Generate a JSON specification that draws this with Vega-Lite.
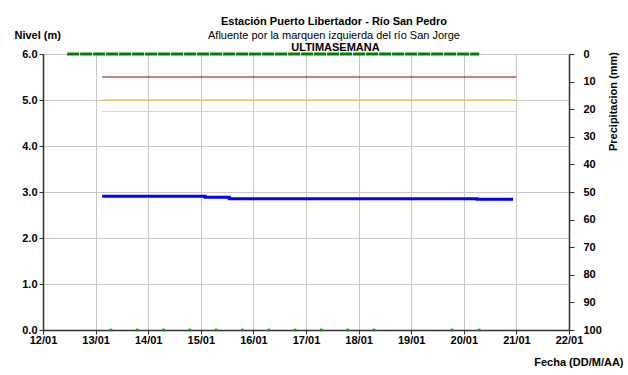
{
  "$schema": "https://vega.github.io/schema/vega-lite/v6.json",
  "width": 526,
  "height": 276,
  "autosize": {"type": "none"},
  "padding": {"left": 43, "top": 54, "right": 59, "bottom": 45},
  "background": "white",
  "title": {
    "text": "Estación Puerto Libertador - Río San Pedro",
    "subtitle": "Afluente por la marquen izquierda del río San Jorge",
    "anchor": "middle",
    "dx": 28,
    "dy": 26,
    "offset": 14,
    "font": "Liberation Sans",
    "fontSize": 11,
    "fontWeight": "bold",
    "subtitleFont": "Liberation Sans",
    "subtitleFontSize": 11,
    "subtitleColor": "black",
    "subtitlePadding": 3,
    "color": "black"
  },
  "config": {
    "view": {"stroke": null},
    "axis": {
      "labelFont": "Liberation Sans",
      "labelFontSize": 11,
      "labelFontWeight": "bold",
      "labelColor": "black",
      "titleFont": "Liberation Sans",
      "titleFontSize": 11,
      "titleFontWeight": "bold",
      "titleColor": "black",
      "domainColor": "#303030",
      "domainWidth": 1.5,
      "tickColor": "#303030",
      "gridColor": "#c8c8c8"
    }
  },
  "datasets": {
    "thresholds": [
      {"fecha": "2024-01-13T03:00:00", "nivel": 5.5, "serie": "Roja"},
      {"fecha": "2024-01-21T00:00:00", "nivel": 5.5, "serie": "Roja"},
      {"fecha": "2024-01-13T03:00:00", "nivel": 5.0, "serie": "Naranja"},
      {"fecha": "2024-01-21T00:00:00", "nivel": 5.0, "serie": "Naranja"},
      {"fecha": "2024-01-13T03:00:00", "nivel": 4.75, "serie": "Amarilla"},
      {"fecha": "2024-01-21T00:00:00", "nivel": 4.75, "serie": "Amarilla"}
    ],
    "nivel": [
      {"fecha": "2024-01-13T03:00:00", "nivel": 2.91},
      {"fecha": "2024-01-15T02:00:00", "nivel": 2.885},
      {"fecha": "2024-01-15T13:00:00", "nivel": 2.855},
      {"fecha": "2024-01-20T06:00:00", "nivel": 2.84},
      {"fecha": "2024-01-20T22:30:00", "nivel": 2.84}
    ],
    "puntos": [
      {"fecha": "2024-01-13T07:00:00", "nivel": 0},
      {"fecha": "2024-01-13T19:00:00", "nivel": 0},
      {"fecha": "2024-01-14T07:00:00", "nivel": 0},
      {"fecha": "2024-01-14T19:00:00", "nivel": 0},
      {"fecha": "2024-01-15T07:00:00", "nivel": 0},
      {"fecha": "2024-01-15T19:00:00", "nivel": 0},
      {"fecha": "2024-01-16T07:00:00", "nivel": 0},
      {"fecha": "2024-01-16T19:00:00", "nivel": 0},
      {"fecha": "2024-01-17T07:00:00", "nivel": 0},
      {"fecha": "2024-01-17T19:00:00", "nivel": 0},
      {"fecha": "2024-01-18T07:00:00", "nivel": 0},
      {"fecha": "2024-01-19T18:40:00", "nivel": 0},
      {"fecha": "2024-01-20T07:00:00", "nivel": 0}
    ],
    "precip": [
      {"fecha": "2024-01-12T11:00:00", "precip": 0},
      {"fecha": "2024-01-20T07:00:00", "precip": 0}
    ]
  },
  "layer": [
    {
      "layer": [
        {
          "data": {"name": "thresholds"},
          "mark": {"type": "line", "strokeWidth": 1.2},
          "encoding": {
            "x": {
              "field": "fecha", "type": "temporal",
              "scale": {"domain": [{"year": 2024, "month": 1, "date": 12}, {"year": 2024, "month": 1, "date": 22}]},
              "axis": {
                "format": "%d/%m",
                "values": [
                  {"year": 2024, "month": 1, "date": 12},
                  {"year": 2024, "month": 1, "date": 13},
                  {"year": 2024, "month": 1, "date": 14},
                  {"year": 2024, "month": 1, "date": 15},
                  {"year": 2024, "month": 1, "date": 16},
                  {"year": 2024, "month": 1, "date": 17},
                  {"year": 2024, "month": 1, "date": 18},
                  {"year": 2024, "month": 1, "date": 19},
                  {"year": 2024, "month": 1, "date": 20},
                  {"year": 2024, "month": 1, "date": 21},
                  {"year": 2024, "month": 1, "date": 22}
                ],
                "title": "Fecha (DD/M/AA)",
                "titleX": 580,
                "titleY": 32,
                "titleAlign": "right",
                "titleBaseline": "middle",
                "titleAnchor": null,
                "tickSize": 4,
                "labelPadding": 0,
                "labelAngle": 0,
                "labelFlush": false,
                "labelOverlap": false,
                "labelFontWeight": "bold",
                "labelFont": "Liberation Sans",
                "grid": true
              }
            },
            "y": {
              "field": "nivel", "type": "quantitative",
              "scale": {"domain": [0, 6]},
              "axis": {
                "values": [0, 1, 2, 3, 4, 5, 6],
                "format": ".1f",
                "title": "Nivel (m)",
                "titleAngle": 0,
                "titleX": -29,
                "titleY": -19,
                "titleAlign": "left",
                "titleBaseline": "middle",
                "tickSize": 4,
                "labelPadding": 2,
                "labelFontWeight": "bold",
                "labelFont": "Liberation Sans",
                "grid": true
              }
            },
            "color": {
              "field": "serie", "type": "nominal",
              "scale": {"domain": ["Roja", "Naranja", "Amarilla"], "range": ["#a00000", "#ffc000", "#f2f200"]},
              "legend": null
            }
          }
        },
        {
          "data": {"name": "nivel"},
          "mark": {"type": "line", "interpolate": "step-after", "color": "#0000ff", "strokeWidth": 3},
          "encoding": {
            "x": {"field": "fecha", "type": "temporal"},
            "y": {"field": "nivel", "type": "quantitative"}
          }
        },
        {
          "data": {"name": "puntos"},
          "mark": {"type": "square", "color": "#00a000", "size": 7, "opacity": 1},
          "encoding": {
            "x": {"field": "fecha", "type": "temporal"},
            "y": {"field": "nivel", "type": "quantitative"}
          }
        }
      ]
    },
    {
      "data": {"name": "precip"},
      "mark": {"type": "line", "color": "#008000", "strokeWidth": 3, "strokeDash": [12, 1]},
      "encoding": {
        "x": {
          "field": "fecha", "type": "temporal",
          "axis": {
            "orient": "top",
            "title": "ULTIMASEMANA",
            "labels": false,
            "ticks": false,
            "domain": false,
            "grid": false,
            "titleX": 292,
            "titleY": -7,
            "titleAlign": "center",
            "titleBaseline": "middle",
            "titleAnchor": null
          }
        },
        "y": {
          "field": "precip", "type": "quantitative",
          "scale": {"domain": [0, 100], "reverse": true},
          "axis": {
            "orient": "right",
            "values": [0, 10, 20, 30, 40, 50, 60, 70, 80, 90, 100],
            "title": "Precipitacion (mm)",
            "titleAngle": 270,
            "titleX": 44,
            "titleY": 47,
            "titleAlign": "center",
            "titleBaseline": "middle",
            "tickSize": 5,
            "labelPadding": 9,
            "labelFontWeight": "bold",
            "labelFont": "Liberation Sans",
            "grid": false
          }
        }
      }
    }
  ],
  "resolve": {"scale": {"y": "independent"}, "axis": {"x": "independent"}}
}
